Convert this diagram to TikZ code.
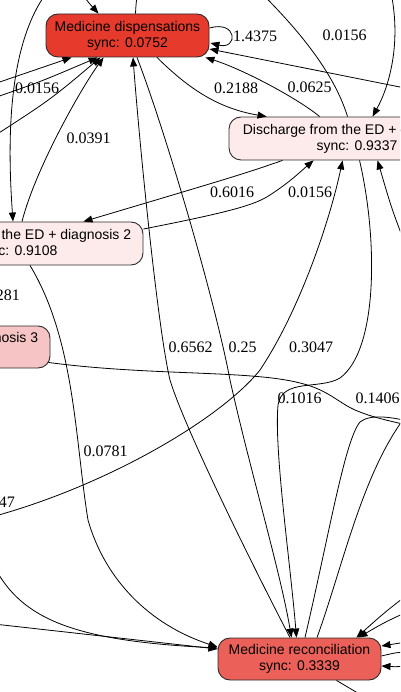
\documentclass[tikz,border=0pt]{standalone}
\usepackage{fontspec}
\setmainfont{Liberation Serif}
\newfontfamily\boxfont{Liberation Sans}
\usetikzlibrary{arrows.meta,calc}
\definecolor{dispred}{HTML}{E63B2C}
\definecolor{reconred}{HTML}{EB6159}
\definecolor{palepink}{HTML}{FDEBEB}
\definecolor{midpink}{HTML}{F6C4C4}
\definecolor{boxline}{HTML}{2B2B2B}
\begin{document}
\begin{tikzpicture}[x=1pt,y=-1pt,
  act/.style={draw=boxline,line width=0.9pt,rounded corners=12pt,minimum height=43pt,
    inner sep=0pt,align=center,font=\boxfont\fontsize{14}{16}\selectfont},
  flow/.style={line width=0.8pt,draw=black},
  arr/.style={flow,-{Triangle[length=9pt,width=7pt]}},
  lbl/.style={font=\fontsize{16}{18}\selectfont,inner sep=0pt}]
\useasboundingbox (0,0) rectangle (400,692);
\clip (0,0) rectangle (400,692);

% activities
\node[act,fill=dispred,minimum width=163pt] (MD) at (127.5,35.5) {Medicine dispensations\\sync: 0.0752};
\node[act,fill=palepink,minimum width=256pt] (DED1) at (357,138.5) {Discharge from the ED + diagnosis 1\\sync: 0.9337};
\node[act,fill=palepink,minimum width=252pt] (DED2) at (17,243.5) {Discharge from the ED + diagnosis 2\\sync: 0.9108};
\node[act,fill=midpink,minimum width=252pt,minimum height=42pt] (DED3) at (-76,347) {Discharge from the ED + diagnosis 3\\\phantom{sync: 0.0000}};
\node[act,fill=reconred,minimum width=163pt,minimum height=42pt] (MR) at (299.5,659) {Medicine reconciliation\\sync: 0.3339};

% loose ends beyond the frame
\coordinate (u1) at (78,-12);
\coordinate (u2) at (138,-12);
\coordinate (u7) at (248,-20);
\coordinate (u8) at (390,-12);
\coordinate (u13) at (52,-14);
\coordinate (w4) at (420,91);
\coordinate (w9) at (-12,86);
\coordinate (w10) at (-12,100);
\coordinate (w11) at (-12,140);
\coordinate (w18) at (-20,520);
\coordinate (w30) at (-15,545);
\coordinate (w31) at (-15,623);
\coordinate (e20) at (420,428);
\coordinate (e21) at (420,424);
\coordinate (e22) at (415,405);
\coordinate (e23) at (420,585);
\coordinate (e24) at (420,606);
\coordinate (e25) at (420,640);
\coordinate (e26) at (420,662);
\coordinate (e27) at (420,652);
\coordinate (e32) at (412,262);
\coordinate (s28) at (373,702);

% around Medicine dispensations
\draw[arr] (u1) .. controls (88,2) .. ($(MD.north west)+(53,0)$);
\draw[flow] ($(MD.north)+(8,0)$) .. controls (136,4) .. (u2);
\draw[arr] ($(MD.east)+(0,-7.5)$) .. controls (238,20) and (238,50) .. ($(MD.east)+(1,7.5)$);
\draw[arr] (w4) -- ($(MD.east)+(0,13.5)$);
\draw[arr] ($(DED1.north west)+(91,0)$) .. controls (300,100) and (245,70) .. ($(MD.south east)+(-4,0)$);
\draw[arr] ($(MD.south)+(29.5,0)$) .. controls (185,85) and (215,108) .. ($(DED1.north west)+(38,0)$);
\draw[flow] ($(DED1.north west)+(119,0)$) .. controls (333,70) and (295,25) .. (u7);
\draw[arr] (u8) .. controls (402,40) and (390,85) .. ($(DED1.north west)+(144,0)$);
\draw[arr] (w9) -- ($(MD.south west)+(26,0)$);
\draw[arr] (w10) .. controls (40,82) .. ($(MD.south west)+(52,0)$);
\draw[arr] (w11) .. controls (50,100) .. ($(MD.south west)+(55,0)$);
\draw[arr] ($(DED2.north)+(5,0)$) .. controls (35,170) and (80,90) .. ($(MD.south west)+(58,0)$);
\draw[arr] (u13) .. controls (5,40) and (8,150) .. ($(DED2.north)+(-4,0)$);

% long edges between the two red activities
\draw[arr] ($(MR.north)+(-9.5,0)$) .. controls (260,580) and (185,430) .. (170,380)
  .. controls (158,330) and (140,150) .. ($(MD.south)+(5.5,0)$);
\draw[arr] ($(MD.south)+(9.5,0)$) .. controls (165,130) and (215,300) .. (230,380)
  .. controls (250,470) and (280,570) .. ($(MR.north)+(-8,0)$);

% between the discharge activities
\draw[arr] ($(DED1.south west)+(54,0)$) .. controls (240,175) .. ($(DED2.north east)+(-60,0)$);
\draw[arr] ($(DED2.east)+(0,-14.5)$) .. controls (230,212) and (255,205) .. (270,195)
  .. controls (290,182) and (300,172) .. ($(DED1.south west)+(85,0)$);
\draw[arr] (w18) .. controls (100,490) and (220,420) .. (260,370)
  .. controls (300,310) and (330,220) .. ($(DED1.south west)+(114,0)$);
\draw[arr] (e32) .. controls (392,210) .. ($(DED1.south west)+(149,0)$);
\draw[arr] ($(DED1.south west)+(131,0)$) .. controls (378,240) and (378,350) .. (340,378)
  .. controls (320,390) and (282,378) .. (278,405)
  .. controls (274,450) and (290,560) .. ($(MR.north)+(-3,0)$);
\draw[flow] ($(DED3.south east)+(-2,-6)$) .. controls (150,376) and (250,370) .. (300,383)
  .. controls (330,390) and (340,405) .. (360,412)
  .. controls (375,418) and (390,421) .. (e20);
\draw[arr] ($(DED2.south)+(13,0)$) .. controls (75,340) and (75,440) .. (88,520)
  .. controls (105,580) and (150,625) .. ($(MR.west)+(0,-12)$);

% around Medicine reconciliation
\draw[arr] (w30) .. controls (10,615) and (60,640) .. ($(MR.west)+(0,-11)$);
\draw[arr] (w31) -- ($(MR.west)+(0,-10)$);
\draw[flow] ($(MR.north)+(5.5,0)$) .. controls (330,530) and (345,440) .. (360,422)
  .. controls (370,414) and (390,416) .. (e21);
\draw[flow] ($(MR.north)+(17.5,0)$) .. controls (345,560) and (365,460) .. (e22);
\draw[arr] (e23) .. controls (385,612) .. ($(MR.north east)+(-25,0)$);
\draw[arr] (e24) .. controls (385,622) .. ($(MR.north east)+(-23,0)$);
\draw[arr] (e25) .. controls (400,643) .. ($(MR.east)+(0,-13)$);
\draw[arr] (e26) .. controls (400,667) .. ($(MR.east)+(0,7)$);
\draw[flow] ($(MR.east)+(0,-3)$) .. controls (398,652) .. (e27);
\draw[flow] ($(MR.south)+(37,0)$) -- (s28);

% edge weights
\node[lbl] (l1) at (255,36) {1.4375};
\node[lbl] (l2) at (344.5,35) {0.0156};
\node[lbl] (l3) at (37,88) {0.0156};
\node[lbl] (l4) at (236,88) {0.2188};
\node[lbl] (l5) at (309.5,87) {0.0625};
\node[lbl] (l6) at (88.5,138) {0.0391};
\node[lbl] (l7) at (232,192) {0.6016};
\node[lbl] (l8) at (310,192) {0.0156};
\node[lbl,anchor=east] (l9) at (20,295) {281};
\node[lbl] (l10) at (190.5,347) {0.6562};
\node[lbl] (l11) at (242.5,347) {0.25};
\node[lbl] (l12) at (311,347) {0.3047};
\node[lbl] (l13) at (299.5,398) {0.1016};
\node[lbl] (l14) at (377.5,398) {0.1406};
\node[lbl] (l15) at (105.5,451) {0.0781};
\node[lbl,anchor=east] (l16) at (15,502) {47};
\end{tikzpicture}
\end{document}
